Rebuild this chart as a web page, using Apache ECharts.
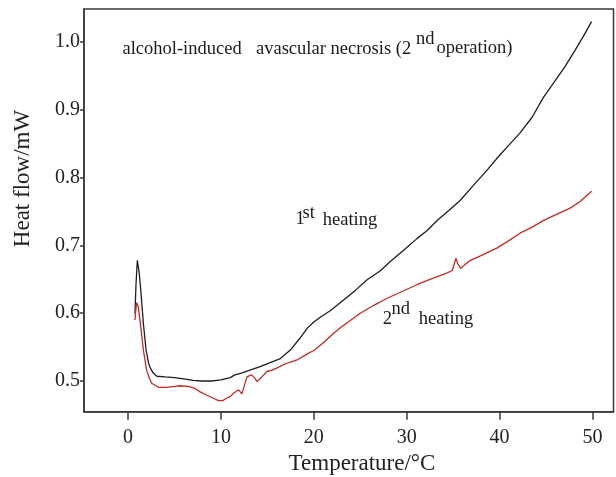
<!DOCTYPE html>
<html>
<head>
<meta charset="utf-8">
<script src="https://cdn.jsdelivr.net/npm/echarts/dist/echarts.min.js"></script>
<style>
  html, body { margin: 0; padding: 0; background: #fff; }
  #chart { width: 616px; height: 477px; }
</style>
</head>
<body>
<div id="chart"></div>
<script>
// ---- data (Temperature °C, Heat flow mW) ----
const firstHeating = [
  [0.75,0.600],[0.85,0.640],[1.0,0.678],[1.2,0.660],[1.37,0.634],[1.65,0.585],[1.94,0.546],
  [2.2,0.527],[2.4,0.519],[2.7,0.512],[3.1,0.507],[4.0,0.506],[5.0,0.505],[6.0,0.503],
  [7.0,0.501],[7.8,0.500],[9.0,0.500],[10.0,0.5015],[11.0,0.505],[11.5,0.509],[12.3,0.512],
  [13.1,0.516],[14.0,0.520],[14.9,0.525],[16.4,0.533],[17.5,0.546],[18.5,0.563],[19.3,0.578],
  [20.0,0.587],[20.7,0.594],[21.8,0.604],[23.2,0.6195],[24.5,0.634],[25.7,0.649],[27.2,0.663],
  [28.2,0.676],[29.6,0.692],[31.1,0.710],[32.2,0.722],[33.3,0.737],[34.5,0.751],[35.8,0.767],
  [37.2,0.789],[38.65,0.811],[40.0,0.833],[41.0,0.848],[42.2,0.866],[43.5,0.889],[44.7,0.918],
  [45.8,0.9395],[47.0,0.963],[48.0,0.985],[49.0,1.008],[49.9,1.030]
];
const secondHeating = [
  [0.75,0.590],[0.8,0.600],[0.93,0.6155],[1.1,0.610],[1.37,0.580],[1.65,0.546],[2.0,0.516],
  [2.3,0.504],[2.55,0.4966],[3.27,0.4907],[4.17,0.4905],[5.0,0.492],[5.6,0.493],[6.5,0.492],
  [7.2,0.489],[7.76,0.484],[8.5,0.479],[9.2,0.4745],[9.73,0.471],[10.2,0.471],[10.6,0.4745],
  [11.0,0.477],[11.35,0.482],[11.9,0.487],[12.1,0.486],[12.25,0.481],[12.5,0.492],[12.8,0.506],
  [13.3,0.509],[13.6,0.505],[13.9,0.499],[14.4,0.506],[14.95,0.514],[15.5,0.516],[16.0,0.519],
  [16.7,0.524],[17.5,0.528],[18.2,0.531],[19.3,0.540],[20.0,0.545],[21.0,0.556],[22.1,0.570],
  [23.0,0.580],[24.0,0.590],[25.0,0.600],[26.5,0.612],[27.9,0.622],[29.5,0.632],[31.1,0.642],
  [32.5,0.650],[34.3,0.659],[34.9,0.663],[35.1,0.672],[35.3,0.681],[35.5,0.673],[35.8,0.666],
  [36.3,0.672],[36.85,0.678],[38.0,0.685],[39.7,0.696],[41.0,0.707],[42.2,0.718],[43.5,0.727],
  [44.75,0.737],[46.0,0.745],[47.6,0.755],[48.7,0.765],[49.9,0.780]
];
const xTicks = [0, 10, 20, 30, 40, 50];
const yTicks = [0.5, 0.6, 0.7, 0.8, 0.9, 1.0];
const xTitle = 'Temperature/°C';
const yTitle = 'Heat flow/mW';

const serif = '"Liberation Serif", "DejaVu Serif", serif';
const chart = echarts.init(document.getElementById('chart'));

function txt(text, x, y, size) {
  return {
    type: 'text', x: x, y: y,
    style: { text: text, fontFamily: serif, fontSize: size, fill: '#1a1a1a',
             align: 'left', verticalAlign: 'middle' }
  };
}

chart.setOption({
  animation: false,
  backgroundColor: '#fff',
  grid: { left: 84, right: 2.5, top: 9, bottom: 65.3, show: true,
          borderColor: '#3a3a3a', borderWidth: 1.5, backgroundColor: 'transparent' },
  xAxis: {
    type: 'value', min: -4.74, max: 52.26,
    axisLine: { show: true, onZero: false, lineStyle: { color: '#3a3a3a', width: 1.5 } },
    axisTick: { show: true, customValues: xTicks, length: 8, inside: false,
                lineStyle: { color: '#3a3a3a', width: 1.5 } },
    axisLabel: { customValues: xTicks, margin: 16, fontFamily: serif, fontSize: 20, color: '#222' },
    splitLine: { show: false }
  },
  yAxis: {
    type: 'value', min: 0.4547, max: 1.0487,
    axisLine: { show: true, onZero: false, lineStyle: { color: '#3a3a3a', width: 1.5 } },
    axisTick: { show: true, customValues: yTicks, length: 4, inside: false,
                lineStyle: { color: '#3a3a3a', width: 1.5 } },
    axisLabel: { customValues: yTicks, margin: 4, fontFamily: serif, fontSize: 20, color: '#222',
                 formatter: v => v.toFixed(1) },
    splitLine: { show: false }
  },
  series: [
    { name: '1st heating', type: 'line', data: firstHeating, showSymbol: false,
      lineStyle: { color: '#1e1e1e', width: 1.3 }, smooth: false },
    { name: '2nd heating', type: 'line', data: secondHeating, showSymbol: false,
      lineStyle: { color: '#c42a22', width: 1.3 }, smooth: false }
  ],
  graphic: [
    { type: 'text', x: 362, y: 464,
      style: { text: xTitle, fontFamily: serif, fontSize: 23, fill: '#222',
               align: 'center', verticalAlign: 'middle' } },
    { type: 'text', x: 23, y: 178.5, rotation: Math.PI / 2,
      style: { text: yTitle, fontFamily: serif, fontSize: 23, fill: '#222',
               align: 'center', verticalAlign: 'middle' } },
    txt('alcohol-induced', 122.5, 49, 18.5),
    txt('avascular necrosis (2', 256, 49, 18.5),
    txt('nd', 416, 39.4, 18.5),
    txt('operation)', 436.5, 48.6, 18.5),
    txt('1', 295.5, 219.4, 18.5),
    txt('st', 302.5, 212.7, 18.5),
    txt('heating', 322.8, 220.4, 18.5),
    txt('2', 382.8, 318.7, 18.5),
    txt('nd', 391.5, 308.7, 18.5),
    txt('heating', 418.8, 319.4, 18.5)
  ]
});
</script>
</body>
</html>
